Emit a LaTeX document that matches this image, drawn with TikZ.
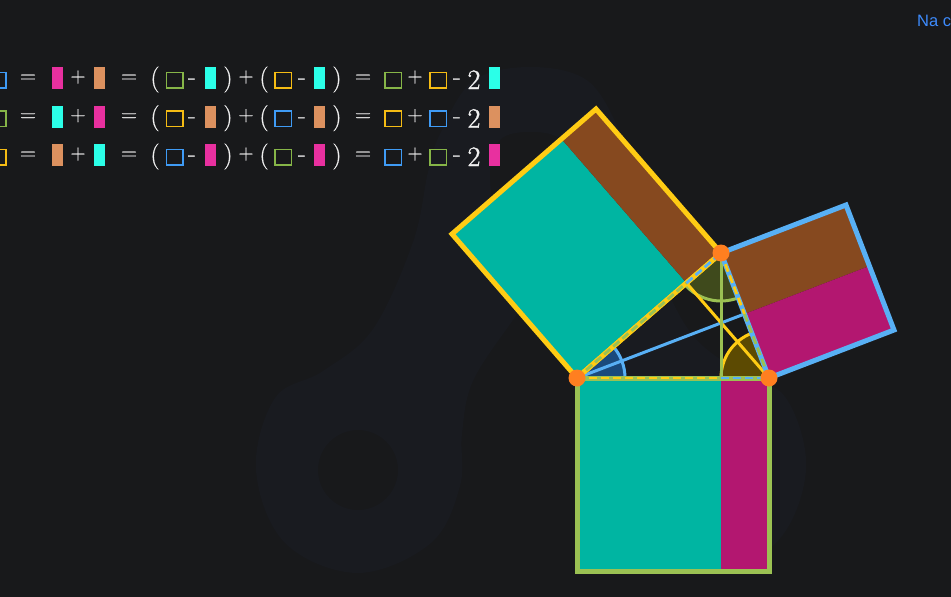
\documentclass[tikz,border=0pt]{standalone}
\usepackage{fontspec}
\newfontfamily\linkfont{Liberation Sans}
\newfontfamily\eqf{Latin Modern Roman}[FakeBold=0.7]
\newfontfamily\twof{Latin Modern Roman}[FakeBold=1.4]
\definecolor{bgc}{HTML}{18191B}
\definecolor{wmc}{HTML}{191B20}
\definecolor{tealc}{HTML}{00B5A2}
\definecolor{brownc}{HTML}{86491F}
\definecolor{magc}{HTML}{B31770}
\definecolor{yelc}{HTML}{FFCC14}
\definecolor{grnc}{HTML}{9BC153}
\definecolor{bluc}{HTML}{58B0F5}
\definecolor{dotc}{HTML}{FF7F20}
\definecolor{rmag}{HTML}{E8309F}
\definecolor{rorg}{HTML}{DC915F}
\definecolor{rcya}{HTML}{2BFFE8}
\definecolor{bblu}{HTML}{3F9BF5}
\definecolor{bgrn}{HTML}{86B548}
\definecolor{byel}{HTML}{F5BC14}
\definecolor{txtc}{HTML}{F0F0F0}
\definecolor{linkc}{HTML}{3D8BFD}
\definecolor{secb}{HTML}{1A4A7C}
\definecolor{secg}{HTML}{3F4A1C}
\definecolor{secy}{HTML}{5C4A02}
\tikzset{
  rc/.style={rectangle,draw=none,inner sep=0pt,minimum width=11pt,minimum height=22pt,fill=#1},
  bx/.style={rectangle,draw=#1,line width=1.5pt,inner sep=0pt,minimum width=16.5pt,minimum height=15.5pt},
  sq/.style={line width=5pt,draw=#1,miter limit=10},
  alt/.style={line width=3pt,draw=#1},
  dsh/.style={line width=2.8pt,draw=#1,dash pattern=on 8pt off 4pt},
  base/.style={line width=5pt,draw=#1},
  dotn/.style={circle,fill=dotc,draw=none,inner sep=0pt,minimum size=17pt},
  tx/.style={text=txtc,inner sep=0pt,anchor=base},
}
\newcommand{\eqrow}[9]{%
\begin{scope}[shift={(0,#1)},name prefix=r#1-]
\node[bx=#2] (b0) at (-2.5,80) {};
\node[tx,font=\eqf\fontsize{22}{22}\selectfont] (e1) at (28,82.5) {=};
\node[rc=#3] (r1) at (57.5,78) {};
\node[tx,font=\eqf\fontsize{21}{21}\selectfont] (p1) at (78,82.3) {+};
\node[rc=#4] (r2) at (99.5,78) {};
\node[tx,font=\eqf\fontsize{22}{22}\selectfont] (e2) at (129,82.5) {=};
\node[tx,font=\eqf\fontsize{26}{26}\selectfont] (lp1) at (155,86) {(};
\node[bx=#5] (b1) at (174.5,80) {};
\node[tx,font=\eqf\fontsize{25}{25}\selectfont] (m1) at (192,84.5) {-};
\node[rc=#6] (r3) at (210.5,78) {};
\node[tx,font=\eqf\fontsize{26}{26}\selectfont] (rp1) at (228,86) {)};
\node[tx,font=\eqf\fontsize{21}{21}\selectfont] (p2) at (246,82.3) {+};
\node[tx,font=\eqf\fontsize{26}{26}\selectfont] (lp2) at (264,86) {(};
\node[bx=#7] (b2) at (283,80) {};
\node[tx,font=\eqf\fontsize{25}{25}\selectfont] (m2) at (302,84.5) {-};
\node[rc=#6] (r4) at (319.5,78) {};
\node[tx,font=\eqf\fontsize{26}{26}\selectfont] (rp2) at (337,86) {)};
\node[tx,font=\eqf\fontsize{22}{22}\selectfont] (e3) at (363,82.5) {=};
\node[bx=#8] (b3) at (393,80) {};
\node[tx,font=\eqf\fontsize{21}{21}\selectfont] (p3) at (415,82.3) {+};
\node[bx=#9] (b4) at (438,80) {};
\node[tx,font=\eqf\fontsize{25}{25}\selectfont] (m3) at (457,84.5) {-};
\node[tx,font=\twof\fontsize{28}{28}\selectfont] (two) at (474,89) {2};
\node[rc=#6] (r5) at (494.5,78) {};
\end{scope}}
\begin{document}
\begin{tikzpicture}[x=1pt,y=-1pt]
\clip (0,0) rectangle (951,597);
\fill[bgc] (0,0) rectangle (951,597);
% faint watermark
\fill[wmc,even odd rule]
  plot[smooth cycle,tension=0.6] coordinates {(530.5,67)(473,81)(440,134)(428,172)(413,242)(373,329)(323,371)(275,398)(256,470)(285,543)(358,573)(431,543)(460,486)(462,434)(473,381)(513,320)(530.5,297)(548,320)(588,381)(599,434)(601,486)(630,543)(703,573)(776,543)(806,470)(786,398)(738,371)(688,329)(648,242)(633,172)(621,134)(588,81)}
  plot[smooth cycle,tension=0.6] coordinates {(530.5,132)(500,140)(490,175)(500,230)(530.5,285)(561,230)(571,175)(561,140)}
  (358,470) circle[radius=40pt]
  (703,470) circle[radius=40pt];
% points
\coordinate (A) at (577,378);
\coordinate (B) at (769,378);
\coordinate (C) at (721,253);
\coordinate (D) at (721,378);
\coordinate (F) at (686.5,283);
\coordinate (G) at (744.5,314);
\coordinate (S1) at (577,571);
\coordinate (S2) at (769,571);
\coordinate (S3) at (721,571);
\coordinate (T1) at (452,234);
\coordinate (T2) at (596,109);
\coordinate (T3) at (561.5,139);
\coordinate (U1) at (846,205);
\coordinate (U2) at (894,330);
\coordinate (U3) at (869.5,266);
% square fills
\fill[tealc] (A) -- (D) -- (S3) -- (S1) -- cycle;
\fill[magc] (D) -- (B) -- (S2) -- (S3) -- cycle;
\fill[tealc] (A) -- (F) -- (T3) -- (T1) -- cycle;
\fill[brownc] (F) -- (C) -- (T2) -- (T3) -- cycle;
\fill[brownc] (C) -- (G) -- (U3) -- (U1) -- cycle;
\fill[magc] (G) -- (B) -- (U2) -- (U3) -- cycle;
% angle sectors
\fill[secb] (A) -- ++(48,0) arc[start angle=0,end angle=40.96,radius=48pt] -- cycle;
\fill[secg] (C) -- ++(-36.2,31.5) arc[start angle=221,end angle=291,radius=48pt] -- cycle;
\fill[secy] (B) -- ++(-48,0) arc[start angle=180,end angle=111,radius=48pt] -- cycle;
\draw[alt=bluc] (A) ++(48,0) arc[start angle=0,end angle=40.96,radius=48pt];
\draw[alt=grnc] (C) ++(-36.2,31.5) arc[start angle=221,end angle=291,radius=48pt];
\draw[alt=yelc] (B) ++(-48,0) arc[start angle=180,end angle=111,radius=48pt];
% altitudes
\draw[alt=bluc] (A) -- (G);
\draw[alt=yelc] (B) -- (F);
\draw[alt=grnc] (C) -- (D);
% square outlines
\draw[sq=yelc] (A) -- (C) -- (T2) -- (T1) -- cycle;
\draw[sq=bluc] (C) -- (B) -- (U2) -- (U1) -- cycle;
\draw[sq=grnc] (A) -- (B) -- (S2) -- (S1) -- cycle;
% dashed overlays on the triangle sides
\draw[base=yelc] (A) -- (C);
\draw[dsh=grnc] (A) -- (F);
\draw[dsh=bluc] (F) -- (C);
\draw[dsh=yelc] (C) -- (G);
\draw[dsh=grnc] (G) -- (B);
\draw[dsh=yelc] (A) -- (D);
\draw[dsh=bluc] (D) -- (B);
% vertices
\node[dotn] (dA) at (A) {};
\node[dotn] (dB) at (B) {};
\node[dotn] (dC) at (C) {};
% equations
\eqrow{0}{bblu}{rmag}{rorg}{bgrn}{rcya}{byel}{bgrn}{byel}
\eqrow{38.7}{bgrn}{rcya}{rmag}{byel}{rorg}{bblu}{byel}{bblu}
\eqrow{77}{byel}{rorg}{rcya}{bblu}{rmag}{bgrn}{bblu}{bgrn}
% link
\node[text=linkc,inner sep=0pt,anchor=base west,font=\linkfont\fontsize{16.5}{16.5}\selectfont] (link) at (917,26) {Na c};
\end{tikzpicture}
\end{document}
